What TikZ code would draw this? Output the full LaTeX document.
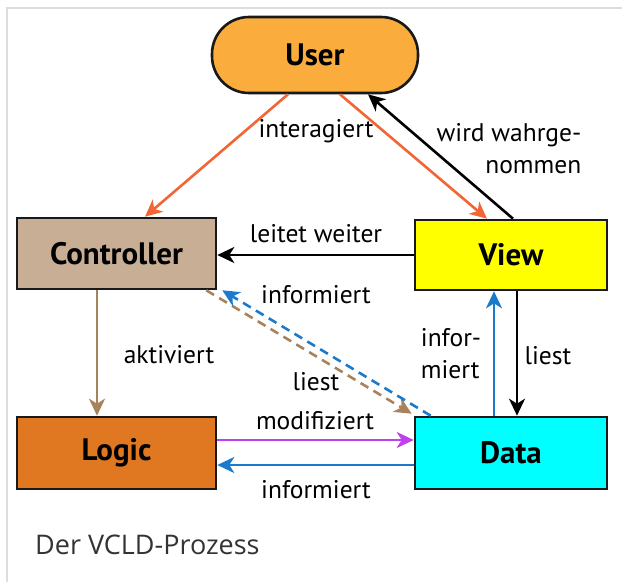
\documentclass[tikz,border=0pt]{standalone}
\usepackage{fontspec}
\setmainfont{PT Sans}
\newfontfamily\capfont{Open Sans}
\usetikzlibrary{arrows.meta}
\definecolor{userfill}{HTML}{FAAC3C}
\definecolor{ctrlfill}{HTML}{C8AE94}
\definecolor{viewfill}{HTML}{FFFF00}
\definecolor{logicfill}{HTML}{E07822}
\definecolor{datafill}{HTML}{00FFFF}
\definecolor{orangearr}{HTML}{F26535}
\definecolor{tanarr}{HTML}{A8825A}
\definecolor{bluearr}{HTML}{1A7ACB}
\definecolor{purplearr}{HTML}{C040F0}
\definecolor{framegray}{HTML}{DDDDDD}
\begin{document}
\begin{tikzpicture}[x=1pt,y=-1pt,
    box/.style={draw=black!90,line width=2.6pt,inner sep=0pt,font=\fontsize{31}{34}\selectfont\bfseries},
    lbl/.style={inner sep=0pt,font=\fontsize{25.5}{32}\selectfont},
    arr/.style={line width=2.6pt,-{Stealth[length=17pt,width=16pt,inset=5pt]}}]
		\useasboundingbox (0,0) rectangle (622,582);
		\draw[framegray,line width=1.5pt] (7,582) -- (7,8) -- (622,8);
		% boxes
		\node[box,fill=userfill,rounded corners=37pt,minimum width=206pt,minimum height=76pt] (user) at (315,55) {User};
		\node[box,fill=ctrlfill,minimum width=199pt,minimum height=71pt] (ctrl) at (116.5,253.5) {Controller};
		\node[box,fill=viewfill,minimum width=192pt,minimum height=70pt] (view) at (511,255) {View};
		\node[box,fill=logicfill,minimum width=199pt,minimum height=72pt] (logic) at (116.5,453) {Logic};
		\node[box,fill=datafill,minimum width=192pt,minimum height=72pt] (data) at (511,453) {Data};
		% arrows
		\draw[arr,orangearr] ([xshift=-27]user.south) -- ([xshift=28.5]ctrl.north);
		\draw[arr,orangearr] ([xshift=25]user.south) -- ([xshift=-24]view.north);
		\draw[arr] ([xshift=2]view.north) -- ([xshift=53]user.south);
		\draw[arr] (view.west) -- (view.west -| ctrl.east);
		\draw[arr,tanarr] ([xshift=-19.5]ctrl.south) -- ([xshift=-19.5]logic.north);
		\draw[arr,tanarr,dashed,dash pattern=on 9pt off 6pt] ([xshift=-11]ctrl.south east) -- ([xshift=-2,yshift=2]data.north west);
		\draw[arr,bluearr,dashed,dash pattern=on 9pt off 6pt] ([xshift=17]data.north west) -- ([xshift=5]ctrl.south east);
		\draw[arr,bluearr] ([xshift=-17]data.north) -- ([xshift=-17]view.south);
		\draw[arr] ([xshift=6]view.south) -- ([xshift=6]data.north);
		\draw[arr,purplearr] ([yshift=13]logic.east) -- ([yshift=13]data.west);
		\draw[arr,bluearr] ([yshift=-12]data.west) -- ([yshift=-12]logic.east);
		% labels
		\node[lbl] (interagiert) at (316,131) {interagiert};
		\node[lbl,align=right] (wahrgenommen) at (509,149) {wird wahrge-\\nommen};
		\node[lbl] (leitet) at (316,234) {leitet weiter};
		\node[lbl] (informiertC) at (316,295) {informiert};
		\node[lbl] (aktiviert) at (169,355) {aktiviert};
		\node[lbl] (liestC) at (316,382) {liest};
		\node[lbl] (modifiziert) at (315,421) {modifiziert};
		\node[lbl] (informiertL) at (316,490) {informiert};
		\node[lbl,align=left] (informiertV) at (451,354) {infor-\\miert};
		\node[lbl] (liestV) at (548,356) {liest};
		\node[anchor=west,inner sep=0pt,text=black!80,font=\capfont\fontsize{27}{30}\selectfont] (caption) at (35,545) {Der VCLD-Prozess};
	    \end{tikzpicture}
\end{document}
